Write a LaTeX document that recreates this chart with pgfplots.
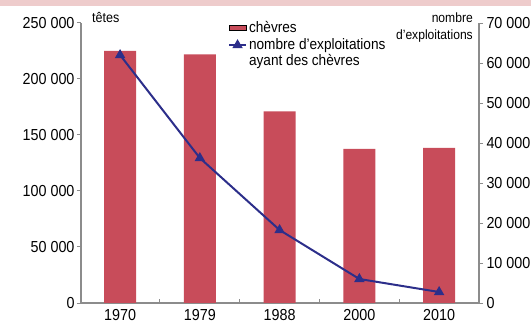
\documentclass[border=0pt]{standalone}
\usepackage{fontspec}
\setmainfont[FakeStretch=0.9]{Liberation Sans}
\usepackage{pgfplots}
\pgfplotsset{compat=1.18}
\definecolor{barc}{RGB}{200,76,90}
\definecolor{linec}{RGB}{44,46,138}
\definecolor{axc}{RGB}{140,140,140}
\definecolor{band}{RGB}{238,204,204}
\begin{document}
\begin{tikzpicture}
  \pgfplotsset{
    common/.style={
      scale only axis,
      width=398bp, height=280bp,
      xmin=-0.49, xmax=4.5,
      ymin=0,
      scaled y ticks=false,
      axis line style={axc, line width=1.2bp},
      tick style={axc, line width=1bp},
      major tick length=4bp, minor tick length=4bp,
      tick label style={font=\fontsize{16}{18}\selectfont},
      ytick align=outside,
    },
  }
  \begin{axis}[
    common,
    ymax=250000,
    axis x line*=bottom, axis y line*=left,
    xtick={0,1,2,3,4},
    xticklabels={1970,1979,1988,2000,2010},
    xticklabel style={yshift=-3bp},
    minor xtick={0.5,1.5,2.5,3.5},
    xtick align=inside,
    major x tick style={draw=none},
    ytick={0,50000,100000,150000,200000,250000},
    yticklabels={0,50 000,100 000,150 000,200 000,250 000},
    yticklabel style={xshift=1bp},
  ]
    \addplot[ybar, bar width=0.40, fill=barc, draw=none] coordinates {
      (0,225000) (1,222000) (2,171000) (3,137500) (4,138500)
    };
  \end{axis}
  \begin{axis}[
    common,
    ymax=70000,
    axis x line=none, axis y line*=right,
    ytick={0,10000,20000,30000,40000,50000,60000,70000},
    yticklabels={0,10 000,20 000,30 000,40 000,50 000,60 000,70 000},
    legend style={
      at={(rel axis cs:0.369,1.014)}, anchor=north west,
      draw=none, fill=none, inner sep=0pt,
      font=\fontsize{15.2}{10.5}\selectfont,
      cells={anchor=west}, row sep=1bp,
    },
  ]
    \addlegendimage{area legend, fill=barc, draw=none}
    \addlegendentry{chèvres}
    \addplot[linec, line width=2bp, mark=triangle*, mark size=4bp] coordinates {
      (0,62000) (1,36250) (2,18250) (3,6000) (4,2750)
    };
    \addlegendentry{\parbox[t]{5cm}{\fontsize{15.2}{10}\selectfont nombre d’exploitations\\ayant des chèvres}}
  \end{axis}
  \pgfresetboundingbox
  \path[use as bounding box] (-81bp,-24bp) rectangle (450bp,303bp);
  \fill[band] (-81bp,297bp) rectangle (450bp,303bp);
  \node[anchor=west, inner sep=0pt, font=\fontsize{14}{15}\selectfont] at (11bp,286bp) {têtes};
  \node[anchor=east, inner sep=0pt, font=\fontsize{13.5}{15}\selectfont] at (392bp,285bp) {nombre};
  \node[anchor=east, inner sep=0pt, font=\fontsize{13.5}{15}\selectfont] at (392bp,267bp) {d’exploitations};
\end{tikzpicture}
\end{document}
